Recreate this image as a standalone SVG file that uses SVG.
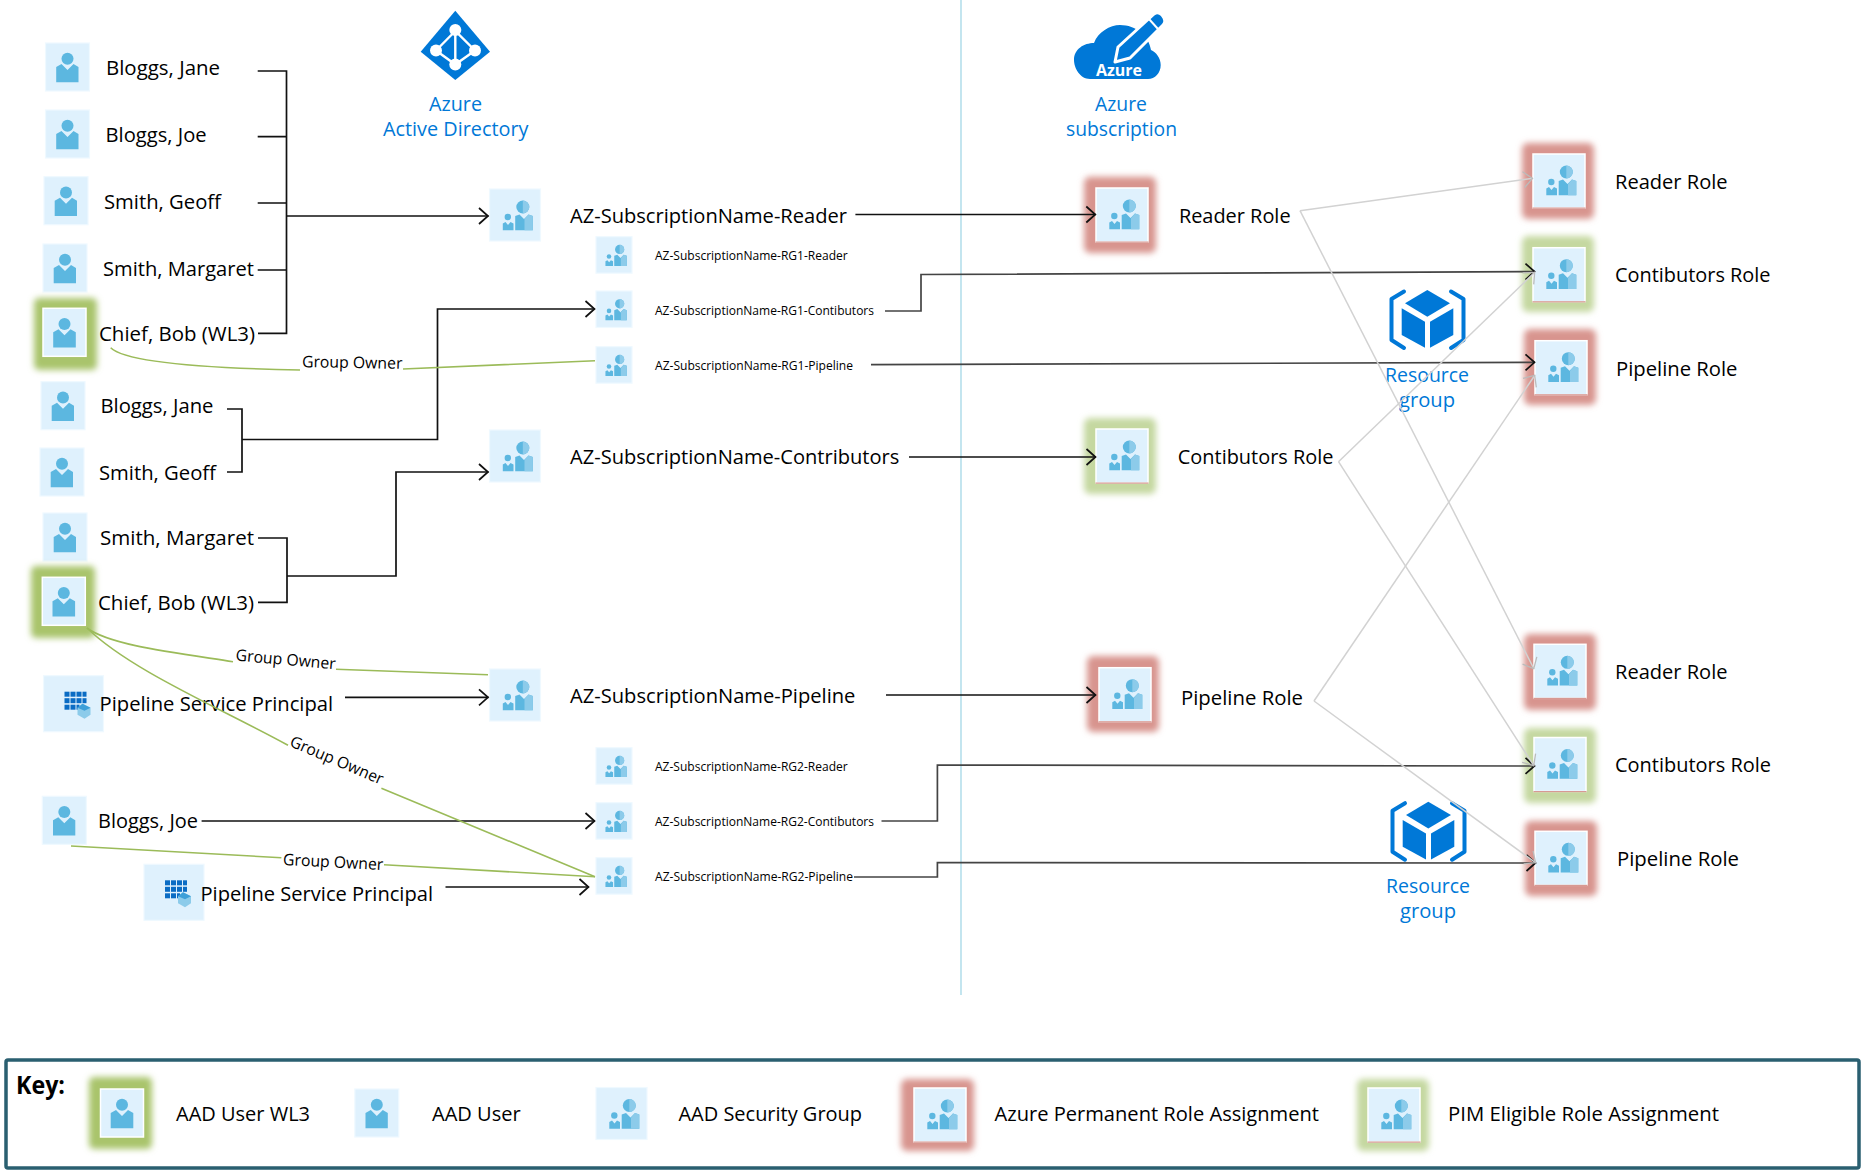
<svg xmlns="http://www.w3.org/2000/svg" width="1863" height="1174" viewBox="0 0 1863 1174">
<style>
text{font-family:"Open Sans","Noto Sans","Liberation Sans",sans-serif;fill:#000}
.t{font-size:20px}
.s{font-size:13px}
.o{font-size:16px}
.b{font-size:20px;fill:#0078d7}
.k{stroke:#111;stroke-width:1.7;fill:none}
.d{stroke:#444;stroke-width:1.7;fill:none}
.a{marker-end:url(#ah)}
.g{stroke:#d2d2d2;stroke-width:1.5;fill:none;marker-end:url(#ag)}
.v{stroke:#9bbb59;stroke-width:1.6;fill:none}
.box{fill:#dff1fd;stroke:#eff9ff;stroke-width:1.2}
.rbox{fill:#dff1fd;stroke:#fff;stroke-width:1.5}
.ic{fill:#5cb7e0}
.ic2{fill:#8ccbea}
.az{fill:#0078d7}
.red{fill:#d8948e;filter:url(#bl)}
.grn{fill:#c5d8a0;filter:url(#bl)}
.wl{fill:#a9c46c;filter:url(#bl)}
.base{fill:#c9776f;opacity:.75}
</style>
<defs>
<filter id="bl" x="-25%" y="-25%" width="150%" height="150%"><feGaussianBlur stdDeviation="3.2"/></filter>
<marker id="ah" markerUnits="userSpaceOnUse" markerWidth="12" markerHeight="20" viewBox="0 0 12 20" refX="11" refY="10" orient="auto"><path d="M1.5 2 L10.5 10 L1.5 18" fill="none" stroke="#111" stroke-width="1.7"/></marker>
<marker id="ag" markerUnits="userSpaceOnUse" markerWidth="12" markerHeight="20" viewBox="0 0 12 20" refX="11" refY="10" orient="auto"><path d="M1.5 2 L10.5 10 L1.5 18" fill="none" stroke="#bbb" stroke-width="1.3"/></marker>
<g id="user"><rect class="box" x="0" y="0" width="44" height="48"/><circle class="ic" cx="22" cy="15.7" r="6"/><path class="ic" d="M10.7 24 L16 21 L22 27 L28 21 L33 24 V39.3 H10.7Z"/></g>
<g id="uicon"><rect class="rbox" x="0" y="0" width="43" height="48"/><circle class="ic" cx="21.5" cy="15.7" r="6"/><path class="ic" d="M10.2 24 L15.500 21 L21.500 27 L27.500 21 L32.800 24 V39.3 H10.2Z"/></g>
<g id="gi"><circle class="ic" cx="33.3" cy="18" r="6.5"/><path class="ic2" d="M33.3 11.5 A6.5 6.5 0 0 1 33.3 24.5Z"/><circle class="ic" cx="18.3" cy="28" r="3.2"/><path class="ic" d="M25.7 27 L30 25.5 L34.500 30 L39 25.5 L43.3 27 V41.3 H25.7Z"/><path class="ic2" d="M35 30 L39 25.5 L43.3 27 V41.3 H35Z"/><path class="ic" d="M13.3 34.5 L16 33 L18.500 36 L21 33 L24 34.500 V41.3 H13.3Z"/></g>
<g id="group"><rect class="box" x="0" y="0" width="51" height="52"/><use href="#gi"/></g>
<g id="sgroup"><rect class="box" x="0" y="0" width="36" height="36.5"/><use href="#gi" transform="scale(.71)"/></g>
<g id="role"><rect class="rbox" x="0" y="0" width="52" height="54"/><rect class="base" x="-.5" y="53.500" width="53" height="1.2"/><use href="#gi"/></g>
<g id="sp"><rect class="box" x="0" y="0" width="60" height="56"/><g fill="#0a6cc4"><rect x="21" y="16" width="5" height="5"/><rect x="27" y="16" width="5" height="5"/><rect x="33" y="16" width="5" height="5"/><rect x="39" y="16" width="4" height="5"/><rect x="21" y="22.500" width="5" height="5"/><rect x="27" y="22.500" width="5" height="5"/><rect x="33" y="22.500" width="5" height="5"/><rect x="39" y="22.500" width="4" height="5"/><rect x="21" y="29" width="5" height="5"/><rect x="27" y="29" width="5" height="5"/><rect x="33" y="29" width="3" height="5"/></g><path fill="#8ccbea" d="M39 28 L47 32 V39 L41 43 L34 39 V32Z"/><path fill="#3d9fd8" d="M39 28 L47 32 L41 35 L34 32Z"/></g>
<g id="rg"><path class="az" d="M1427.3 290 L1450 303.3 L1427.3 316.7 L1405 303.3Z"/><path class="az" d="M1401.700 308.300 L1425 321.700 V347.700 L1401.700 335Z"/><path class="az" d="M1453.300 308.300 L1430 321.700 V347.700 L1453.300 335Z"/><path fill="none" stroke="#0078d7" stroke-width="4" stroke-linecap="round" stroke-linejoin="round" d="M1404 291.500 L1391.500 299 V340 L1404 348M1451 291.500 L1463.500 299 V340 L1451 348"/></g>
</defs>
<rect width="1863" height="1174" fill="#fff"/>
<line x1="961" y1="0" x2="961" y2="995" stroke="#b5dfeb" stroke-width="1.6"/>

<g id="azure-ad"><path class="az" d="M455.300 10.700 L490 51.700 L455.300 80 L420.700 51.700Z"/><path d="M455.300 31 L436 50.500 L455.300 64.500 L475 50.500Z M455.300 31 V64.500" fill="none" stroke="#fff" stroke-width="2.400"/><g fill="#fff"><circle cx="455.300" cy="30" r="6"/><circle cx="436" cy="50.500" r="6"/><circle cx="475" cy="50.500" r="6"/><circle cx="455.300" cy="64.500" r="6"/></g><text class="b" x="429" y="111" textLength="53" lengthAdjust="spacingAndGlyphs">Azure</text><text class="b" x="383" y="135.700" textLength="145.500" lengthAdjust="spacingAndGlyphs">Active Directory</text></g>

<g id="azure-sub"><path class="az" d="M1090 79 C1080 79 1074 68 1074 60 C1074 49 1084 43 1094 43 C1098 32 1110 25 1120 25 C1136 25 1149 36 1151 50 C1156 52 1160.700 58 1160.700 65 C1160.700 73 1155 79 1148 79Z"/><path d="M1115 62 L1118 47 L1154 14 Q1158 11 1162 15 L1164 18 Q1166 22 1163 25 L1130 58Z" class="az" stroke="#fff" stroke-width="3" stroke-linejoin="round"/><path d="M1149 19 L1158 29" stroke="#fff" stroke-width="2"/><text x="1096" y="76" style="font-size:16px;font-weight:700;fill:#fff" textLength="46" lengthAdjust="spacingAndGlyphs">Azure</text><text class="b" x="1095" y="111" textLength="52" lengthAdjust="spacingAndGlyphs">Azure</text><text class="b" x="1066" y="135.700" textLength="111" lengthAdjust="spacingAndGlyphs">subscription</text></g>

<g id="rg1"><use href="#rg"/><text class="b" x="1385" y="382" textLength="84" lengthAdjust="spacingAndGlyphs">Resource</text><text class="b" x="1399" y="406.700" textLength="56" lengthAdjust="spacingAndGlyphs">group</text></g>
<g id="rg2"><use href="#rg" x="1" y="511.700"/><text class="b" x="1386" y="893" textLength="84" lengthAdjust="spacingAndGlyphs">Resource</text><text class="b" x="1400" y="917.700" textLength="56" lengthAdjust="spacingAndGlyphs">group</text></g>

<g id="u1"><use href="#user" x="45.500" y="43"/><text class="t" x="106" y="75.300" textLength="114" lengthAdjust="spacingAndGlyphs">Bloggs, Jane</text></g>
<g id="u2"><use href="#user" x="45.500" y="110"/><text class="t" x="105.600" y="142" textLength="101" lengthAdjust="spacingAndGlyphs">Bloggs, Joe</text></g>
<g id="u3"><use href="#user" x="44" y="176.700"/><text class="t" x="104" y="209" textLength="117" lengthAdjust="spacingAndGlyphs">Smith, Geoff</text></g>
<g id="u4"><use href="#user" x="43" y="244"/><text class="t" x="103" y="276" textLength="151" lengthAdjust="spacingAndGlyphs">Smith, Margaret</text></g>
<g id="u5"><rect class="wl" x="34" y="298" width="63" height="72" rx="5"/><use href="#uicon" x="43" y="308.300"/><text class="t" x="99" y="341" textLength="156" lengthAdjust="spacingAndGlyphs">Chief, Bob (WL3)</text></g>
<g id="u6"><use href="#user" x="41" y="381.700"/><text class="t" x="100.500" y="413" textLength="113" lengthAdjust="spacingAndGlyphs">Bloggs, Jane</text></g>
<g id="u7"><use href="#user" x="40" y="448"/><text class="t" x="99" y="480" textLength="117" lengthAdjust="spacingAndGlyphs">Smith, Geoff</text></g>
<g id="u8"><use href="#user" x="43" y="513"/><text class="t" x="100" y="545" textLength="154" lengthAdjust="spacingAndGlyphs">Smith, Margaret</text></g>
<g id="u9"><rect class="wl" x="31" y="566" width="64" height="72" rx="5"/><use href="#uicon" x="42.300" y="577.300"/><text class="t" x="98" y="610" textLength="156" lengthAdjust="spacingAndGlyphs">Chief, Bob (WL3)</text></g>
<g id="sp1"><use href="#sp" x="43.500" y="675.700"/><text class="t" x="99.600" y="710.700" textLength="233.500" lengthAdjust="spacingAndGlyphs">Pipeline Service Principal</text></g>
<g id="u10"><use href="#user" x="42.300" y="796.300"/><text class="t" x="98" y="827.700" textLength="100" lengthAdjust="spacingAndGlyphs">Bloggs, Joe</text></g>
<g id="sp2"><use href="#sp" x="144" y="864.300"/><text class="t" x="200.500" y="900.700" textLength="232.500" lengthAdjust="spacingAndGlyphs">Pipeline Service Principal</text></g>

<g id="g-reader"><use href="#group" x="489.500" y="189"/><text class="t" x="570" y="222.500" textLength="277" lengthAdjust="spacingAndGlyphs">AZ-SubscriptionName-Reader</text></g>
<g id="g-contrib"><use href="#group" x="489.500" y="430"/><text class="t" x="570" y="463.500" textLength="329.400" lengthAdjust="spacingAndGlyphs">AZ-SubscriptionName-Contributors</text></g>
<g id="g-pipeline"><use href="#group" x="489.500" y="669"/><text class="t" x="570" y="702.700" textLength="285.400" lengthAdjust="spacingAndGlyphs">AZ-SubscriptionName-Pipeline</text></g>
<g id="g-rg1r"><use href="#sgroup" x="596" y="236.700"/><text class="s" x="655" y="260" textLength="192.700" lengthAdjust="spacingAndGlyphs">AZ-SubscriptionName-RG1-Reader</text></g>
<g id="g-rg1c"><use href="#sgroup" x="596" y="291"/><text class="s" x="655" y="315" textLength="219" lengthAdjust="spacingAndGlyphs">AZ-SubscriptionName-RG1-Contibutors</text></g>
<g id="g-rg1p"><use href="#sgroup" x="596" y="346.700"/><text class="s" x="655" y="370" textLength="198" lengthAdjust="spacingAndGlyphs">AZ-SubscriptionName-RG1-Pipeline</text></g>
<g id="g-rg2r"><use href="#sgroup" x="596" y="747.700"/><text class="s" x="655" y="771" textLength="192.700" lengthAdjust="spacingAndGlyphs">AZ-SubscriptionName-RG2-Reader</text></g>
<g id="g-rg2c"><use href="#sgroup" x="596" y="802.700"/><text class="s" x="655" y="826" textLength="219" lengthAdjust="spacingAndGlyphs">AZ-SubscriptionName-RG2-Contibutors</text></g>
<g id="g-rg2p"><use href="#sgroup" x="596" y="857.700"/><text class="s" x="655" y="880.600" textLength="198" lengthAdjust="spacingAndGlyphs">AZ-SubscriptionName-RG2-Pipeline</text></g>

<g id="r-reader"><rect class="red" x="1084" y="176.700" width="72" height="76.300" rx="6"/><use href="#role" x="1096" y="188"/><text class="t" x="1178.900" y="222.700" textLength="111.700" lengthAdjust="spacingAndGlyphs">Reader Role</text></g>
<g id="r-contrib"><rect class="grn" x="1084" y="418" width="72" height="76" rx="6"/><use href="#role" x="1096" y="429"/><text class="t" x="1177.800" y="464" textLength="155.700" lengthAdjust="spacingAndGlyphs">Contibutors Role</text></g>
<g id="r-pipeline"><rect class="red" x="1087" y="656" width="72" height="76" rx="6"/><use href="#role" x="1099" y="667.700"/><text class="t" x="1181" y="705" textLength="122" lengthAdjust="spacingAndGlyphs">Pipeline Role</text></g>
<g id="rg1-reader"><rect class="red" x="1522" y="143" width="72" height="76" rx="6"/><use href="#role" x="1533" y="154"/><text class="t" x="1615" y="189" textLength="112.600" lengthAdjust="spacingAndGlyphs">Reader Role</text></g>
<g id="rg1-contrib"><rect class="grn" x="1522" y="236" width="72" height="76" rx="6"/><use href="#role" x="1533" y="247.700"/><text class="t" x="1615" y="282" textLength="155.500" lengthAdjust="spacingAndGlyphs">Contibutors Role</text></g>
<g id="rg1-pipeline"><rect class="red" x="1524" y="329" width="72" height="76" rx="6"/><use href="#role" x="1535" y="340.700"/><text class="t" x="1616" y="376" textLength="121.500" lengthAdjust="spacingAndGlyphs">Pipeline Role</text></g>
<g id="rg2-reader"><rect class="red" x="1524" y="634" width="72" height="76" rx="6"/><use href="#role" x="1534" y="644.300"/><text class="t" x="1615" y="679" textLength="112.500" lengthAdjust="spacingAndGlyphs">Reader Role</text></g>
<g id="rg2-contrib"><rect class="grn" x="1524" y="728" width="72" height="75" rx="6"/><use href="#role" x="1534" y="737.500"/><text class="t" x="1615" y="772" textLength="156" lengthAdjust="spacingAndGlyphs">Contibutors Role</text></g>
<g id="rg2-pipeline"><rect class="red" x="1525" y="821" width="72" height="75" rx="6"/><use href="#role" x="1535" y="831.300"/><text class="t" x="1617" y="866" textLength="122" lengthAdjust="spacingAndGlyphs">Pipeline Role</text></g>

<g id="connectors">
<path class="k" d="M257.700 71 H286.500 V333.300 H258M257.700 136.700 H286.500M257.700 203 H286.500M257.700 270 H286.500"/>
<path class="k a" d="M286.500 216 H488.500"/>
<path class="k" d="M227 409 H242 V472 H227"/>
<path class="k a" d="M242 439.500 H437.500 V309 H595"/>
<path class="k" d="M258 538 H287 V602.300 H258"/>
<path class="k a" d="M287 576 H396 V472 H488.500"/>
<path class="k a" d="M345 697.300 H488.500"/>
<path class="k a" d="M201.600 821 H595"/>
<path class="k a" d="M445.500 887 H589"/>
<path class="k a" d="M855.400 214.500 H1095.800"/>
<path class="k a" d="M909 457 H1096"/>
<path class="k a" d="M886 695 H1096"/>
<path class="d a" d="M885 311 H921 V274.500 L1535 271.500"/>
<path class="d a" d="M871 364.700 L1535 362.300"/>
<path class="d a" d="M881.500 821 H937.400 V765 L1535 766"/>
<path class="d a" d="M854 877 H937.400 V862.500 L1536 863"/>
<path class="g" d="M1300 210.700 L1533 178.300"/>
<path class="g" d="M1300 210.700 L1534 669"/>
<path class="g" d="M1338.500 461.700 L1535 272"/>
<path class="g" d="M1338.500 461.700 L1534 766"/>
<path class="g" d="M1314 701 L1535 375"/>
<path class="g" d="M1314 701 L1536 863"/>
<path class="v" d="M110.700 347.700 C125 362 200 368 300 370M403 369 L595 360.700"/>
<path class="v" d="M87 628 C110 645 170 652 233 661.700M336 669.300 L488 674.700"/>
<path class="v" d="M87 628 C130 670 220 708 288 745.300M381.400 788.300 L595 876.700"/>
<path class="v" d="M71 846 L281.400 857.700M384 864.700 L595 876.700"/>
<text class="o" x="302" y="368" textLength="100.500" lengthAdjust="spacingAndGlyphs" transform="rotate(1 352 362)">Group Owner</text>
<text class="o" x="235.600" y="665" textLength="100.400" lengthAdjust="spacingAndGlyphs" transform="rotate(5 286 659)">Group Owner</text>
<text class="o" x="287" y="766" textLength="100" lengthAdjust="spacingAndGlyphs" transform="rotate(23 337.500 760)">Group Owner</text>
<text class="o" x="283" y="867.500" textLength="100.400" lengthAdjust="spacingAndGlyphs" transform="rotate(3 333 861.700)">Group Owner</text>
</g>

<g id="key">
<rect x="6" y="1060" width="1853" height="108" rx="2" fill="none" stroke="#2a5f70" stroke-width="3.500"/>
<text x="16" y="1094" style="font-size:25px;font-weight:700" textLength="49" lengthAdjust="spacingAndGlyphs">Key:</text>
<g id="key-wl3"><rect class="wl" x="89" y="1077" width="63" height="72" rx="5"/><use href="#uicon" x="100.500" y="1089"/><text class="t" x="176" y="1121" textLength="134" lengthAdjust="spacingAndGlyphs">AAD User WL3</text></g>
<g id="key-user"><use href="#user" x="354.800" y="1089"/><text class="t" x="432" y="1121" textLength="88.700" lengthAdjust="spacingAndGlyphs">AAD User</text></g>
<g id="key-group"><use href="#group" x="596" y="1087.500"/><text class="t" x="678.500" y="1121" textLength="183.500" lengthAdjust="spacingAndGlyphs">AAD Security Group</text></g>
<g id="key-perm"><rect class="red" x="901" y="1079" width="73" height="72" rx="6"/><use href="#role" x="914" y="1088"/><text class="t" x="994.500" y="1121" textLength="324.500" lengthAdjust="spacingAndGlyphs">Azure Permanent Role Assignment</text></g>
<g id="key-pim"><rect class="grn" x="1357" y="1079" width="72" height="72" rx="6"/><use href="#role" x="1368" y="1088"/><text class="t" x="1448" y="1121" textLength="271" lengthAdjust="spacingAndGlyphs">PIM Eligible Role Assignment</text></g>
</g>
</svg>
